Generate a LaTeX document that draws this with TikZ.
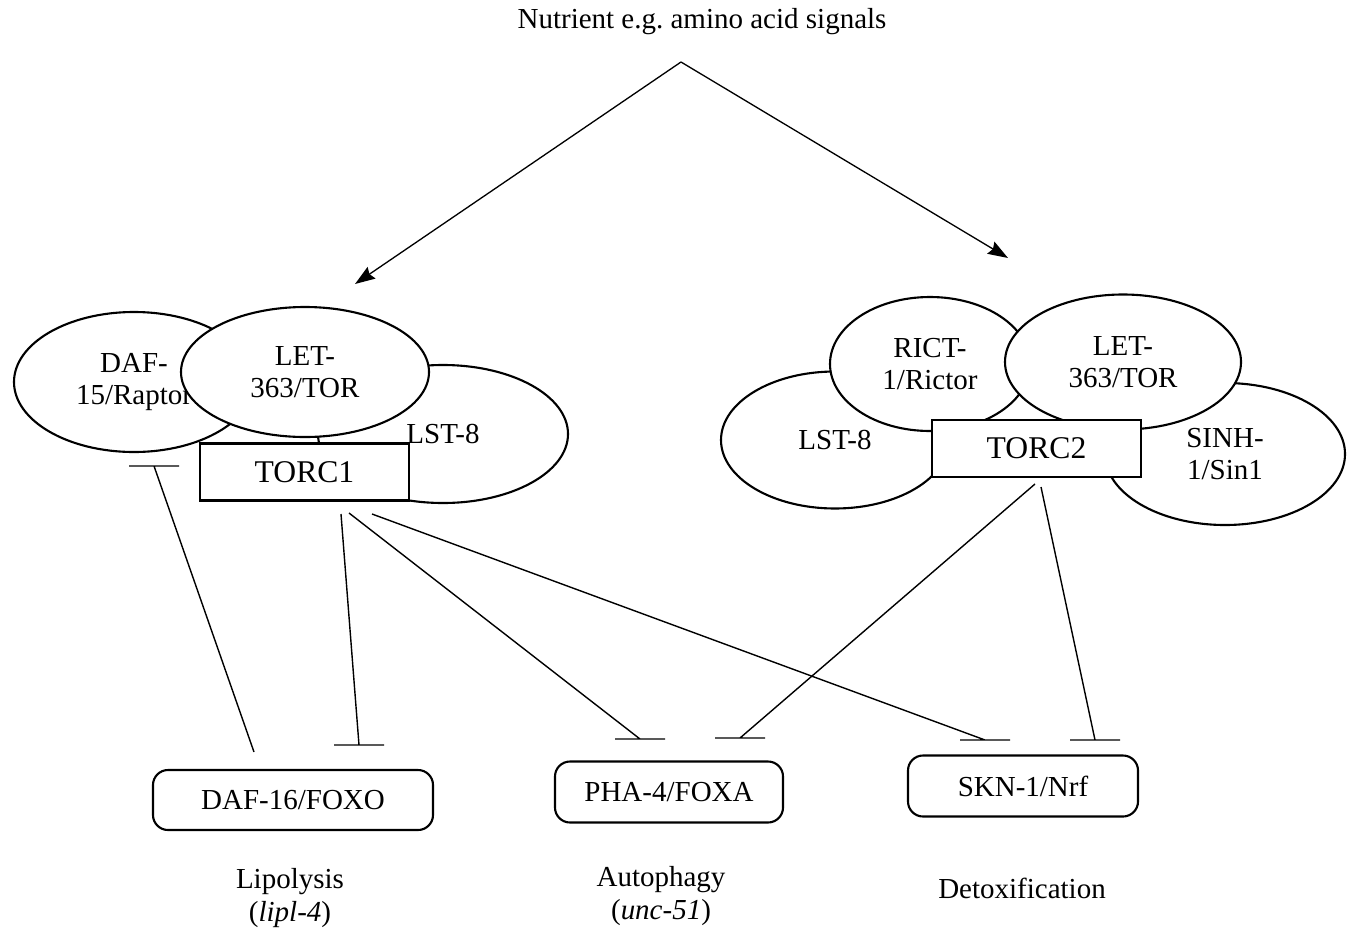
\documentclass[tikz,border=0pt]{standalone}
\usepackage{fontspec}
\setmainfont{Liberation Serif}
\usetikzlibrary{shapes.geometric,arrows.meta}

\tikzstyle{plain} = [align=center, inner sep=0pt, font=\fontsize{16.5}{19}\selectfont]
\tikzstyle{protein} = [ellipse, draw=black, fill=white, line width=1.2pt, inner sep=0pt, align=center, font=\fontsize{16.5}{18}\selectfont]
\tikzstyle{complex} = [rectangle, draw=black, fill=white, line width=1.2pt, inner sep=0pt, font=\fontsize{18}{20}\selectfont]
\tikzstyle{factor} = [rectangle, rounded corners=3mm, draw=black, fill=white, line width=1.2pt, inner sep=0pt, font=\fontsize{16.5}{19}\selectfont]
\tikzstyle{arrow} = [line width=0.75pt, -{Stealth[length=4mm, width=2.8mm, inset=0.5mm]}]
\tikzstyle{inhibit} = [line width=0.8pt]

\begin{document}
\begin{tikzpicture}[x=0.2mm, y=-0.2mm]
    \useasboundingbox (0,0) rectangle (1353,935);

    % Nodes
    \node (nutrient) [plain] at (702,22) {Nutrient e.g.\ amino acid signals};
    \coordinate (split) at (681,62);

    % TORC1
    \node (raptor) [protein, minimum width=48mm, minimum height=28mm] at (134,382) {DAF-\\15/Raptor};
    \node (lst1) [protein, minimum width=50mm, minimum height=27.6mm] at (443,434) {LST-8};
    \node (tor1) [protein, minimum width=49.6mm, minimum height=26mm] at (305,372) {LET-\\363/TOR};
    \node (torc1) [complex, minimum width=41.8mm, minimum height=11.4mm] at (304.5,472) {TORC1};

    % TORC2
    \node (lst2) [protein, minimum width=45.6mm, minimum height=27.4mm] at (835,440) {LST-8};
    \node (sin1) [protein, minimum width=48mm, minimum height=28.4mm] at (1225,454) {SINH-\\1/Sin1};
    \node (rictor) [protein, minimum width=40mm, minimum height=26.8mm] at (930,364) {RICT-\\1/Rictor};
    \node (tor2) [protein, minimum width=47.2mm, minimum height=27mm] at (1123,362) {LET-\\363/TOR};
    \node (torc2) [complex, minimum width=41.8mm, minimum height=11.4mm] at (1036.5,448.5) {TORC2};

    % Targets
    \node (daf16) [factor, minimum width=56mm, minimum height=12mm] at (293,800) {DAF-16/FOXO};
    \node (pha4) [factor, minimum width=45.6mm, minimum height=12.2mm] at (669,792) {PHA-4/FOXA};
    \node (skn1) [factor, minimum width=46mm, minimum height=12.2mm] at (1023,786) {SKN-1/Nrf};

    \node (lipolysis) [plain] at (290,898) {Lipolysis\\(\textit{lipl-4})};
    \node (autophagy) [plain] at (661,896) {Autophagy\\(\textit{unc-51})};
    \node (detox) [plain] at (1022,888) {Detoxification};

    % Line ends
    \coordinate (tip1) at (355,284);
    \coordinate (tip2) at (1008,258);
    \coordinate (daf16top) at (254,752);
    \coordinate (raptorbar) at (154,466);
    \coordinate (torc1a) at (341,514);
    \coordinate (torc1b) at (349,513);
    \coordinate (torc1c) at (372,514);
    \coordinate (torc2a) at (1035,484);
    \coordinate (torc2b) at (1041,487);
    \coordinate (daf16bar) at (359,745);
    \coordinate (pha4bar1) at (640,739);
    \coordinate (pha4bar2) at (740,738);
    \coordinate (skn1bar1) at (985,740);
    \coordinate (skn1bar2) at (1095,740);

    % Arrows
    \draw [arrow] (split) -- (tip1);
    \draw [arrow] (split) -- (tip2);

    \draw [inhibit] (daf16top) -- (raptorbar) +(-25,0) -- +(25,0);
    \draw [inhibit] (torc1a) -- (daf16bar) +(-25,0) -- +(25,0);
    \draw [inhibit] (torc1b) -- (pha4bar1) +(-25,0) -- +(25,0);
    \draw [inhibit] (torc1c) -- (skn1bar1) +(-25,0) -- +(25,0);
    \draw [inhibit] (torc2a) -- (pha4bar2) +(-25,0) -- +(25,0);
    \draw [inhibit] (torc2b) -- (skn1bar2) +(-25,0) -- +(25,0);

\end{tikzpicture}
\end{document}
